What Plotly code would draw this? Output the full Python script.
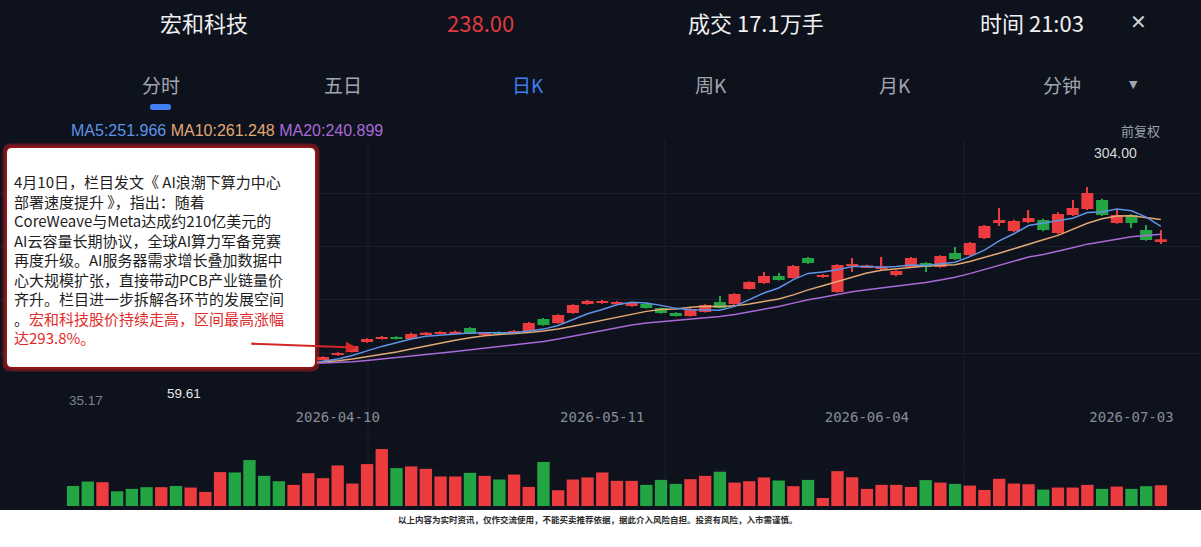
import plotly.graph_objects as go
import pandas as pd

W, H = 1201, 547

# ---------------- data ----------------
tick_idx = [18, 36, 54, 72]
tick_labels = ["2026-04-10", "2026-05-11", "2026-06-04", "2026-07-03"]

opens = [82.5, 81.5, 79.8, 82.3, 81.2, 80.5, 79.3, 80.6, 79.0, 80.2,
         81.0, 85.0, 84.5, 82.5, 81.8, 80.8, 83.2, 86.9, 92.0, 95.8,
         108.4, 112.2, 114.7, 112.2, 117.8, 118.6, 119.0, 126.0, 117.5, 121.0,
         120.0, 122.3, 137.4, 132.4, 145.0, 156.3, 157.6, 156.0, 153.8, 156.3,
         151.3, 145.0, 141.2, 146.2, 158.9, 156.3, 175.3, 182.8, 191.7, 189.1,
         214.4, 190.4, 171.5, 204.3, 202.5, 201.0, 192.9, 203.0, 208.1, 203.0,
         220.7, 218.2, 239.6, 258.6, 248.5, 259.8, 262.4, 245.9, 268.7, 276.2,
         287.6, 258.6, 268.7, 249.7, 234.5]
closes = [80.6, 79.8, 82.0, 81.0, 80.1, 79.2, 80.8, 79.1, 80.2, 81.0,
          84.5, 83.2, 81.8, 81.2, 80.7, 83.2, 86.3, 89.4, 94.5, 103.3,
          112.2, 114.7, 112.2, 118.5, 120.0, 121.0, 121.2, 118.5, 119.8, 118.8,
          122.4, 132.4, 129.8, 142.4, 155.1, 160.1, 160.1, 159.0, 157.6, 151.3,
          145.0, 141.2, 150.0, 155.1, 151.3, 169.0, 184.1, 191.7, 186.6, 204.3,
          208.1, 192.9, 205.6, 206.8, 205.0, 203.5, 198.0, 214.4, 203.0, 216.9,
          213.1, 233.3, 254.8, 262.4, 261.1, 264.9, 249.7, 269.9, 277.5, 296.4,
          268.7, 268.7, 258.6, 237.1, 238.0]
highs = [83.5, 82.6, 83.0, 83.0, 82.0, 81.3, 81.6, 81.2, 80.9, 81.7,
         85.3, 86.2, 86.5, 83.6, 82.5, 84.0, 87.0, 90.5, 95.5, 104.0,
         113.0, 116.0, 115.5, 120.0, 121.0, 122.0, 122.5, 127.0, 120.8, 122.0,
         123.5, 133.5, 138.5, 143.5, 156.0, 161.5, 161.5, 160.0, 159.0, 157.5,
         152.0, 146.0, 151.0, 156.0, 166.4, 170.0, 185.0, 196.7, 195.5, 205.5,
         215.5, 194.0, 206.5, 214.4, 206.0, 215.5, 199.0, 215.5, 209.0, 218.0,
         228.3, 234.5, 256.0, 277.5, 262.5, 275.0, 264.0, 272.0, 287.6, 304.0,
         289.0, 275.0, 270.0, 256.0, 249.7]
lows = [79.5, 79.0, 79.2, 80.2, 79.4, 78.5, 78.8, 78.3, 78.2, 79.6,
        80.5, 82.6, 81.2, 80.6, 80.0, 80.3, 82.8, 85.0, 91.0, 95.0,
        107.5, 111.5, 111.5, 111.8, 117.0, 118.0, 118.5, 118.0, 117.0, 118.0,
        119.5, 121.5, 129.0, 131.5, 144.0, 155.5, 156.5, 155.0, 153.0, 150.5,
        144.0, 140.5, 140.5, 145.5, 150.5, 155.5, 174.5, 182.0, 186.0, 188.5,
        207.0, 189.5, 170.5, 196.7, 202.0, 199.0, 191.5, 202.5, 196.7, 202.0,
        212.0, 217.0, 238.5, 254.8, 247.0, 258.5, 248.0, 244.5, 267.5, 275.0,
        267.5, 257.5, 252.2, 236.0, 232.0]
volumes = [16.5, 20.1, 19.6, 12.1, 14.1, 15.5, 15.5, 16.5, 15.2, 11.6,
           27.9, 27.6, 37.8, 24.8, 20.4, 17.4, 27.0, 22.9, 33.4, 18.5,
           34.5, 46.9, 31.2, 32.6, 30.6, 24.3, 24.3, 27.3, 24.8, 21.8,
           25.9, 15.7, 36.2, 13.0, 21.8, 23.5, 27.6, 20.7, 20.7, 17.4,
           21.5, 18.2, 22.1, 24.8, 28.2, 19.3, 20.4, 23.5, 21.0, 16.3,
           21.5, 6.6, 28.7, 23.7, 14.1, 17.4, 17.4, 15.7, 21.3, 19.3,
           18.2, 16.8, 13.2, 22.4, 18.5, 17.9, 13.5, 15.2, 15.2, 17.4,
           14.1, 16.0, 14.1, 16.3, 17.1]
idx = list(range(len(closes)))

ma_legend = [("MA5:251.966", "#5f93e6"), ("MA10:261.248", "#e2a772"), ("MA20:240.899", "#a86ad8")]
box_lines = [
    "4月10日，栏目发文《 AI浪潮下算力中心",
    "部署速度提升 》，指出：随着",
    "CoreWeave与Meta达成约210亿美元的",
    "AI云容量长期协议，全球AI算力军备竞赛",
    "再度升级。AI服务器需求增长叠加数据中",
    "心大规模扩张，直接带动PCB产业链量价",
    "齐升。栏目进一步拆解各环节的发展空间",
    "。<span style='color:#e02b2b'>宏和科技股价持续走高，区间最高涨幅</span>",
    "<span style='color:#e02b2b'>达293.8%。</span>",
]

# ---------------- style ----------------
BG = "#0e121d"
RED = "#ec3c3f"
GREEN = "#23a543"
GRID = "#1a1f2c"
CJK = "Noto Sans CJK SC"


def X(p):
    return p / W


def Y(p):
    return 1 - p / H


close_s = pd.Series(closes)
ma5 = close_s.rolling(5, min_periods=1).mean()
ma10 = close_s.rolling(10, min_periods=1).mean()
ma20 = close_s.rolling(20, min_periods=1).mean()
bar_colors = [RED if c >= o else GREEN for o, c in zip(opens, closes)]
body_base = [min(o, c) for o, c in zip(opens, closes)]
body_len = [abs(c - o) for o, c in zip(opens, closes)]
wick_len = [h - l for h, l in zip(highs, lows)]

fig = go.Figure()
# candle wicks and bodies
fig.add_trace(go.Bar(x=idx, y=wick_len, base=lows, width=0.09,
                     marker=dict(color=bar_colors, line=dict(width=0)),
                     showlegend=False, xaxis="x", yaxis="y", hoverinfo="skip"))
fig.add_trace(go.Bar(x=idx, y=body_len, base=body_base, width=0.82,
                     marker=dict(color=bar_colors, line=dict(width=0)),
                     showlegend=False, xaxis="x", yaxis="y",
                     customdata=list(zip(opens, highs, lows, closes)),
                     hovertemplate="O %{customdata[0]}<br>H %{customdata[1]}<br>L %{customdata[2]}<br>C %{customdata[3]}<extra></extra>"))
for s, col in [(ma20, "#a86ad8"), (ma10, "#e2a772"), (ma5, "#5f93e6")]:
    fig.add_trace(go.Scatter(x=idx, y=s, mode="lines", line=dict(color=col, width=1.5),
                             showlegend=False, xaxis="x", yaxis="y", hoverinfo="skip"))
fig.add_trace(go.Bar(x=idx, y=volumes, marker=dict(color=bar_colors, line=dict(width=0)),
                     width=0.84, showlegend=False, xaxis="x2", yaxis="y2"))

xr = [-4.97, 76.73]
fig.update_layout(
    width=W, height=H, margin=dict(l=0, r=0, t=0, b=0),
    paper_bgcolor=BG, plot_bgcolor="rgba(0,0,0,0)", barmode="overlay",
    xaxis=dict(domain=[0, 1], range=xr, anchor="y", tickmode="array", tickvals=tick_idx,
               ticktext=tick_labels, tickfont=dict(family="DejaVu Sans Mono", size=14, color="#878c96"),
               showgrid=False, zeroline=False, showline=False, ticks=""),
    yaxis=dict(domain=[Y(406.6), Y(140)], range=[26.84, 363.3], showticklabels=False,
               tickmode="linear", tick0=26.84, dtick=(363.3 - 26.84) / 5,
               gridcolor=GRID, gridwidth=1, zeroline=False, showline=False),
    xaxis2=dict(domain=[0, 1], range=xr, anchor="y2", matches="x", showticklabels=False,
                showgrid=False, zeroline=False, showline=False),
    yaxis2=dict(domain=[Y(506), Y(437)], range=[0, 56.8], showticklabels=False,
                showgrid=False, zeroline=False, showline=False),
)


def rrect(x0, y0, x1, y1, r):
    pts = [
        f"M {X(x0 + r)},{Y(y0)}", f"L {X(x1 - r)},{Y(y0)}", f"Q {X(x1)},{Y(y0)} {X(x1)},{Y(y0 + r)}",
        f"L {X(x1)},{Y(y1 - r)}", f"Q {X(x1)},{Y(y1)} {X(x1 - r)},{Y(y1)}",
        f"L {X(x0 + r)},{Y(y1)}", f"Q {X(x0)},{Y(y1)} {X(x0)},{Y(y1 - r)}",
        f"L {X(x0)},{Y(y0 + r)}", f"Q {X(x0)},{Y(y0)} {X(x0 + r)},{Y(y0)}", "Z"]
    return " ".join(pts)


shapes = []
for gx in [368, 665, 964]:
    shapes.append(dict(type="line", xref="paper", yref="paper", x0=X(gx), x1=X(gx), y0=Y(140), y1=Y(506),
                       line=dict(color=GRID, width=1), layer="below"))
for gy in [437, 470]:
    shapes.append(dict(type="line", xref="paper", yref="paper", x0=0, x1=1, y0=Y(gy), y1=Y(gy),
                       line=dict(color="#141926", width=1), layer="below"))
shapes.append(dict(type="rect", xref="paper", yref="paper", x0=0, x1=1, y0=0, y1=Y(510),
                   fillcolor="#ffffff", line=dict(width=0), layer="above"))
shapes.append(dict(type="path", xref="paper", yref="paper", path=rrect(150, 104, 171, 110, 2.5),
                   fillcolor="#3f7ff0", line=dict(width=0), layer="above"))
shapes.append(dict(type="path", xref="paper", yref="paper", path=rrect(4, 145, 318, 370, 7),
                   fillcolor="rgba(0,0,0,0)", line=dict(color="rgba(200,30,30,0.45)", width=3), layer="above"))
shapes.append(dict(type="path", xref="paper", yref="paper", path=rrect(6, 147, 316, 368, 6),
                   fillcolor="#ffffff", line=dict(color="#8e1616", width=2), layer="above"))

ann = []


def txt(s, x, y, size, color, family=CJK, xanchor="center", align="center"):
    ann.append(dict(text=s, x=X(x), y=Y(y), xref="paper", yref="paper", showarrow=False, align=align,
                    xanchor=xanchor, yanchor="middle", font=dict(family=family, size=size, color=color)))


txt("宏和科技", 204, 22, 22, "#f0f0f0")
txt("238.00", 480, 22, 22, "#e0393d")
txt("成交 17.1万手", 756, 22, 22, "#f0f0f0")
txt("时间 21:03", 1032, 22, 22, "#f0f0f0")
txt("✕", 1138, 22, 20, "#d0d0d0", family="DejaVu Sans")
for t, xx, col in [("分时", 161, "#a2a6af"), ("五日", 343, "#a2a6af"), ("日K", 528, "#3f7ff0"),
                   ("周K", 711, "#a2a6af"), ("月K", 895, "#a2a6af"), ("分钟", 1062, "#a2a6af")]:
    txt(t, xx, 84, 19, col)
txt("▼", 1133, 85, 11, "#a2a6af", family="DejaVu Sans")

legend_html = " ".join(f"<span style='color:{c}'>{t}</span>" for t, c in ma_legend)
txt(legend_html, 69, 130, 16, "#ffffff", family="Liberation Sans", xanchor="left")
txt("前复权", 1162, 130, 13, "#9aa0aa", xanchor="right")

# max / min labels
imax = max(idx, key=lambda i: highs[i])
ann.append(dict(text=f"{highs[imax]:.2f}", x=imax + 1.9, y=Y(153), xref="x", yref="paper", showarrow=False,
                xanchor="center", yanchor="middle", font=dict(family="Liberation Sans", size=14, color="#d9d9d9")))
txt("35.17", 86, 400, 13.5, "#7e838d", family="Liberation Sans")
txt("59.61", 184, 393, 13.5, "#e6e6e6", family="Liberation Sans")

# commentary box text (one block)
txt("<br>".join(box_lines), 12, 259.5, 15, "#1e1e1e", xanchor="left", align="left")

# arrow to the 04-10 area candle
ann.append(dict(text="", x=19.3, y=closes[19] - 2, xref="x", yref="y", showarrow=True,
                ax=-107, ay=-4, arrowhead=2, arrowsize=1, arrowwidth=2.2, arrowcolor="#d42626"))

txt("<b>以上内容为实时资讯，仅作交流使用，不能买卖推荐依据，据此介入风险自担。投资有风险，入市需谨慎。</b>",
    598, 519, 8.5, "#2a2a2a")

fig.update_layout(shapes=shapes, annotations=ann)
fig.write_html("out.html", config={"displayModeBar": False},
               post_script="document.body.style.margin='0';document.body.style.padding='0';"
                           "document.body.style.overflow='hidden';")
